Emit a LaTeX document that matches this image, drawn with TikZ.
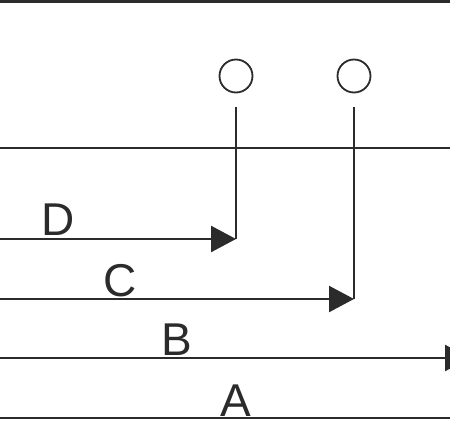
\documentclass[tikz,border=0pt]{standalone}
\usepackage{fontspec}
\setmainfont{Liberation Sans}
\usepackage{tikz}
\usetikzlibrary{
  arrows.meta,%
  positioning
}
\definecolor{inkgray}{HTML}{2B2B2B}
\tikzset{>={Triangle[length=25pt,width=26pt]}}
\tikzset{guide/.style={draw=inkgray, line width=2.4pt},
  port/.style={circle, draw=inkgray, line width=1.8pt, minimum size=33pt, inner sep=0pt},
  tag/.style={text=inkgray, font=\fontsize{46}{54}\selectfont, inner sep=0pt, anchor=base}}
\begin{document}
\begin{tikzpicture}[x=1pt,y=-1pt]
  \useasboundingbox (0,0) rectangle (450,432);
  \clip (0,0) rectangle (450,432);
  % rails
  \foreach \y in {1.5,148,418}
    \draw[guide] (0,\y) -- (450,\y);
  % ports
  \node[port] (p1) at (236,76) {};
  \node[port] (p2) at (354,76) {};
  % routes
  \coordinate (d0) at (0,239);
  \coordinate (d1) at (236,239);
  \coordinate (c0) at (0,299);
  \coordinate (c1) at (354,299);
  \coordinate (b0) at (0,358);
  \coordinate (b1) at (470,358);
  \draw[guide,->] (d0) -- (d1);
  \draw[guide,->] (c0) -- (c1);
  \draw[guide,->] (b0) -- (b1);
  \draw[guide,shorten <=14pt] (p1.south) -- (d1);
  \draw[guide,shorten <=14pt] (p2.south) -- (c1);
  % labels
  \node[tag] (ld) at (58,235) {D};
  \node[tag] (lc) at (120,296) {C};
  \node[tag] (lb) at (177,355) {B};
  \node[tag] (la) at (236,416) {A};
\end{tikzpicture}
\end{document}
